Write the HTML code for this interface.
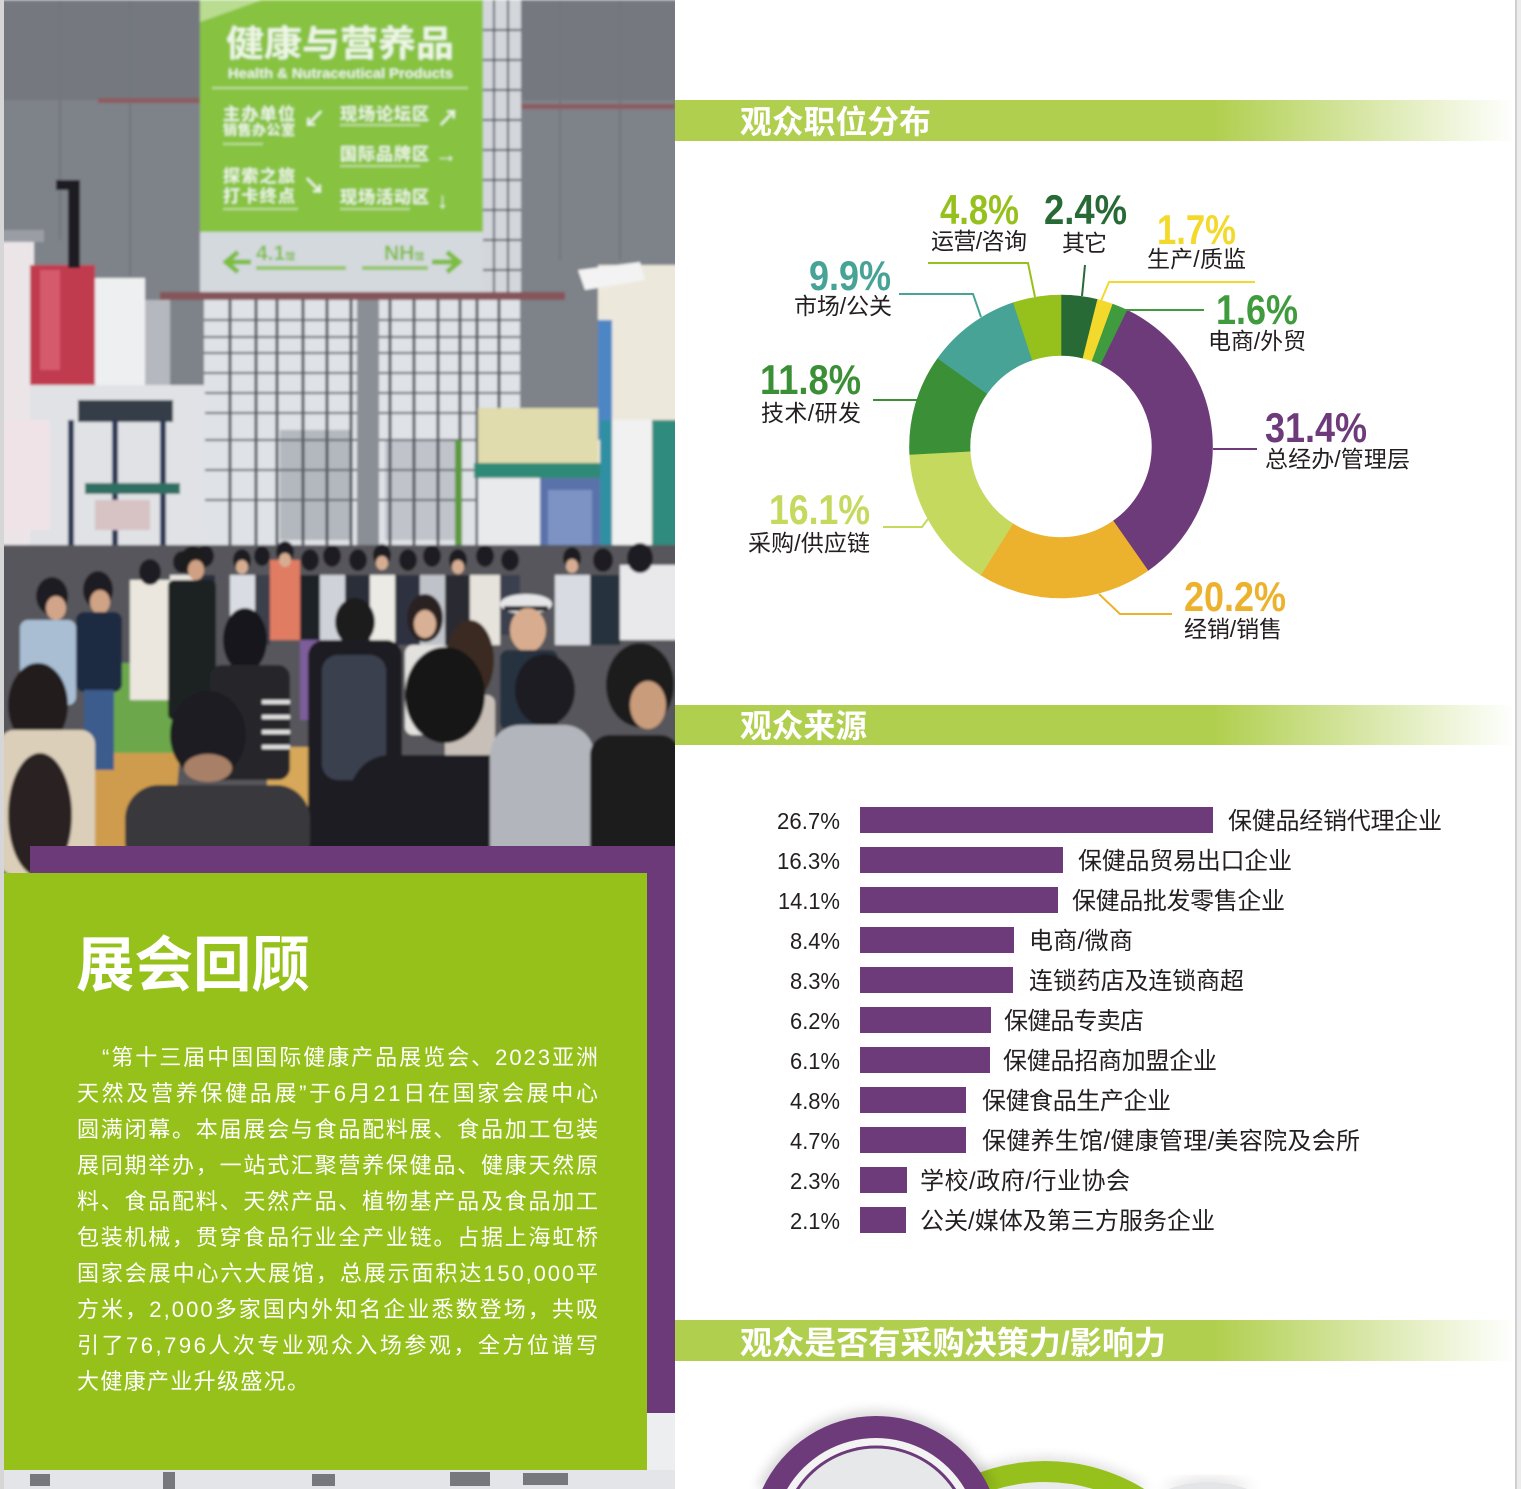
<!DOCTYPE html>
<html><head><meta charset="utf-8"><style>
html,body{margin:0;padding:0;background:#fff;width:1521px;height:1489px;overflow:hidden}
svg{display:block}
text{font-family:"Liberation Sans","Noto Sans CJK SC",sans-serif}
.pc{font-family:"Liberation Sans Narrow","Liberation Sans",sans-serif;font-weight:bold;font-size:42px}
.lb{font-size:23px;fill:#231f20}
.hd{font-size:32px;font-weight:bold;fill:#fff}
.bp{font-size:23px;fill:#231f20}
.bl{font-size:24px;fill:#231f20}
.tx{font-size:22px;fill:#fff}
.sg{fill:#edf6e4;font-weight:bold}
</style></head><body>
<svg width="1521" height="1489" viewBox="0 0 1521 1489" xmlns="http://www.w3.org/2000/svg">
<defs>
<linearGradient id="hg" gradientUnits="userSpaceOnUse" x1="675" y1="0" x2="1515" y2="0">
<stop offset="0" stop-color="#b1cf4f"/><stop offset="0.643" stop-color="#b1cf4f"/><stop offset="1" stop-color="#ffffff"/>
</linearGradient>
<clipPath id="pcl"><rect x="4" y="0" width="671" height="873"/></clipPath>
<clipPath id="bcl"><rect x="675" y="1361" width="840" height="128"/></clipPath>
<filter id="b6" x="-30%" y="-30%" width="160%" height="160%"><feGaussianBlur stdDeviation="6"/></filter>
<filter id="b1" x="-10%" y="-10%" width="120%" height="120%"><feGaussianBlur stdDeviation="1.2"/></filter>
</defs>

<!-- edges -->
<rect x="0" y="0" width="4" height="1489" fill="#d6d6d6"/>
<rect x="1515" y="0" width="6" height="1489" fill="#ececec"/>
<rect x="1515" y="0" width="2" height="1489" fill="#cfcfcf"/>

<!-- ================= PHOTO ================= -->
<g clip-path="url(#pcl)">
<g filter="url(#b1)">
<rect x="0" y="0" width="680" height="873" fill="#7e8289"/>
<rect x="0" y="0" width="680" height="100" fill="#74787f"/>
<g stroke="#72767d" stroke-width="2"><line x1="60" y1="0" x2="60" y2="240"/><line x1="130" y1="0" x2="130" y2="300"/><line x1="560" y1="0" x2="560" y2="260"/><line x1="620" y1="0" x2="620" y2="260"/></g>
<rect x="98" y="98" width="104" height="5" fill="#8d5b60"/>
<rect x="483" y="104" width="192" height="5" fill="#8d5b60"/>
<rect x="483" y="0" width="38" height="295" fill="#d3d7dc"/>
<g stroke="#565a61" stroke-width="2"><line x1="494" y1="0" x2="494" y2="295"/><line x1="508" y1="0" x2="508" y2="295"/>
<line x1="483" y1="30" x2="521" y2="30"/><line x1="483" y1="60" x2="521" y2="60"/><line x1="483" y1="90" x2="521" y2="90"/><line x1="483" y1="120" x2="521" y2="120"/><line x1="483" y1="150" x2="521" y2="150"/><line x1="483" y1="180" x2="521" y2="180"/><line x1="483" y1="210" x2="521" y2="210"/><line x1="483" y1="240" x2="521" y2="240"/><line x1="483" y1="270" x2="521" y2="270"/></g>
<rect x="200" y="0" width="283" height="232" fill="#87c340"/>
<polygon points="200,0 262,0 200,22" fill="#b9dc90"/>
<text x="226" y="56" class="sg" font-size="36" textLength="228" lengthAdjust="spacingAndGlyphs">健康与营养品</text>
<text x="228" y="78" class="sg" font-size="14" textLength="225" lengthAdjust="spacingAndGlyphs">Health &amp; Nutraceutical Products</text>
<line x1="212" y1="88" x2="468" y2="88" stroke="#d0e6b4" stroke-width="1.5"/>
<text x="223" y="120" class="sg" font-size="17" textLength="72">主办单位</text>
<text x="223" y="135" class="sg" font-size="14" textLength="72">销售办公室</text>
<text x="303" y="127" class="sg" font-size="22">↙</text>
<text x="340" y="120" class="sg" font-size="17" textLength="89">现场论坛区</text>
<text x="437" y="126" class="sg" font-size="22">↗</text>
<text x="340" y="160" class="sg" font-size="17" textLength="89">国际品牌区</text>
<text x="435" y="162" class="sg" font-size="22">→</text>
<text x="223" y="182" class="sg" font-size="17" textLength="72">探索之旅</text>
<text x="223" y="202" class="sg" font-size="17" textLength="72">打卡终点</text>
<text x="303" y="194" class="sg" font-size="22">↘</text>
<text x="340" y="203" class="sg" font-size="17" textLength="89">现场活动区</text>
<text x="437" y="208" class="sg" font-size="22">↓</text>
<g fill="#bfe09c"><rect x="340" y="124" width="80" height="2"/><rect x="340" y="165" width="80" height="2"/><rect x="340" y="208" width="70" height="2"/><rect x="223" y="143" width="40" height="2"/><rect x="223" y="208" width="75" height="2"/></g>
<rect x="200" y="232" width="283" height="60" fill="#d4d9de"/>
<path d="M251 262 H228 M238 252 L226 262 L238 272" stroke="#7dbd3c" stroke-width="5" fill="none"/>
<path d="M432 262 H458 M447 252 L459 262 L447 272" stroke="#7dbd3c" stroke-width="5" fill="none"/>
<text x="256" y="260" font-size="21" font-weight="bold" fill="#7fbe3e">4.1<tspan font-size="10">馆</tspan></text>
<text x="384" y="260" font-size="21" font-weight="bold" fill="#7fbe3e">NH<tspan font-size="10">馆</tspan></text>
<rect x="256" y="266" width="90" height="4" fill="#93c761"/><rect x="362" y="266" width="66" height="4" fill="#93c761"/>
<rect x="160" y="292" width="405" height="8" fill="#86545a"/>
<rect x="204" y="300" width="316" height="245" fill="#dfe2e6"/>
<rect x="280" y="430" width="70" height="110" fill="#b3b8bf"/>
<rect x="385" y="440" width="70" height="100" fill="#c0c4ca"/>
<g stroke="#4b5057" stroke-width="3"><line x1="230" y1="300" x2="230" y2="545"/><line x1="256" y1="300" x2="256" y2="545"/><line x1="277" y1="300" x2="277" y2="545"/><line x1="303" y1="300" x2="303" y2="545"/><line x1="327" y1="300" x2="327" y2="545"/><line x1="351" y1="300" x2="351" y2="545"/><line x1="390" y1="300" x2="390" y2="545"/><line x1="414" y1="300" x2="414" y2="545"/><line x1="438" y1="300" x2="438" y2="545"/><line x1="460" y1="300" x2="460" y2="545"/><line x1="477" y1="300" x2="477" y2="545"/><line x1="499" y1="300" x2="499" y2="545"/></g>
<g stroke="#5b6067" stroke-width="2"><line x1="204" y1="320" x2="520" y2="320"/><line x1="204" y1="337" x2="520" y2="337"/><line x1="204" y1="353" x2="520" y2="353"/><line x1="204" y1="373" x2="520" y2="373"/><line x1="204" y1="393" x2="520" y2="393"/><line x1="204" y1="413" x2="520" y2="413"/><line x1="204" y1="440" x2="520" y2="440"/><line x1="204" y1="470" x2="520" y2="470"/><line x1="204" y1="500" x2="520" y2="500"/></g>
<rect x="357" y="300" width="22" height="245" fill="#8a8e95"/>
<rect x="0" y="240" width="34" height="330" fill="#ebe5e8"/>
<rect x="30" y="265" width="65" height="120" fill="#c13a4f"/>
<rect x="40" y="270" width="20" height="100" fill="#d45a6c"/>
<rect x="95" y="278" width="50" height="107" fill="#eeeff1"/>
<rect x="145" y="300" width="25" height="100" fill="#b5b9bf"/>
<rect x="30" y="385" width="175" height="170" fill="#e0e2e5"/>
<rect x="78" y="400" width="95" height="22" fill="#363c4a"/>
<rect x="68" y="180" width="12" height="88" fill="#1d1e22"/><rect x="56" y="180" width="24" height="10" fill="#1d1e22"/>
<rect x="0" y="230" width="44" height="12" fill="#9a9ea4"/>
<rect x="0" y="420" width="50" height="110" fill="#efe3e7"/>
<g fill="#2b3858"><rect x="68" y="420" width="6" height="140"/><rect x="112" y="420" width="6" height="140"/><rect x="160" y="420" width="6" height="140"/></g>
<rect x="85" y="483" width="95" height="11" fill="#2e6e63"/>
<rect x="95" y="500" width="55" height="30" fill="#d7c2c4"/>
<rect x="598" y="265" width="80" height="295" fill="#ece8dc"/>
<rect x="598" y="320" width="14" height="120" fill="#4e86c5"/>
<polygon points="578,270 640,262 645,280 585,290" fill="#f3f3f3"/>
<rect x="478" y="408" width="120" height="55" fill="#e0dcae"/>
<rect x="474" y="463" width="126" height="15" fill="#2d8a77"/>
<rect x="478" y="478" width="62" height="85" fill="#e8eaec"/>
<rect x="540" y="478" width="60" height="85" fill="#5a72aa"/>
<rect x="548" y="490" width="44" height="60" fill="#7d93c4"/>
<rect x="600" y="420" width="12" height="140" fill="#2f90a2"/>
<rect x="612" y="420" width="40" height="140" fill="#f1f1f1"/>
<rect x="652" y="420" width="30" height="190" fill="#2f8b7e"/>
<rect x="455" y="440" width="7" height="120" fill="#5b9a3b"/>
<rect x="0" y="545" width="680" height="330" fill="#56575c"/>
<polygon points="85,663 190,663 195,753 87,753" fill="#6ca84b"/>
<polygon points="95,753 180,753 170,873 95,873" fill="#cf9c4e"/>
<polygon points="269,747 338,747 338,873 262,873" fill="#d7a85a"/>
<g>
<rect x="170" y="575" width="25" height="75" fill="#e9e6df"/><rect x="195" y="575" width="20" height="75" fill="#2a2f3c"/>
<rect x="230" y="575" width="25" height="70" fill="#d9dde3"/><rect x="255" y="575" width="15" height="70" fill="#3a3f4c"/>
<rect x="270" y="560" width="30" height="80" fill="#e07b62"/><rect x="300" y="575" width="20" height="70" fill="#1e2026"/>
<rect x="320" y="575" width="25" height="70" fill="#cfd3d9"/><rect x="345" y="575" width="25" height="60" fill="#2a2e38"/>
<rect x="370" y="575" width="25" height="70" fill="#eceae4"/><rect x="395" y="575" width="25" height="70" fill="#2d3140"/>
<rect x="420" y="575" width="25" height="70" fill="#bfc3c9"/><rect x="445" y="575" width="25" height="70" fill="#2a2c33"/>
<rect x="470" y="575" width="30" height="70" fill="#e6e3dc"/><rect x="500" y="575" width="20" height="60" fill="#3a4050"/>
<rect x="555" y="575" width="35" height="70" fill="#d8dce2"/><rect x="590" y="575" width="30" height="70" fill="#28303c"/>
<rect x="620" y="565" width="60" height="75" fill="#e9e9eb"/>
</g>
<g fill="#1e1e22">
<ellipse cx="182" cy="562" rx="9" ry="11"/><ellipse cx="205" cy="556" rx="9" ry="11"/><ellipse cx="242" cy="560" rx="9" ry="11"/><ellipse cx="262" cy="556" rx="8" ry="10"/><ellipse cx="285" cy="552" rx="9" ry="11"/><ellipse cx="310" cy="560" rx="9" ry="11"/><ellipse cx="332" cy="556" rx="9" ry="11"/><ellipse cx="358" cy="560" rx="9" ry="11"/><ellipse cx="382" cy="555" rx="9" ry="11"/><ellipse cx="408" cy="560" rx="9" ry="11"/><ellipse cx="432" cy="556" rx="9" ry="11"/><ellipse cx="458" cy="560" rx="9" ry="11"/><ellipse cx="485" cy="556" rx="9" ry="11"/><ellipse cx="510" cy="560" rx="9" ry="11"/><ellipse cx="572" cy="558" rx="9" ry="11"/><ellipse cx="603" cy="560" rx="10" ry="12"/><ellipse cx="640" cy="558" rx="13" ry="15"/>
</g>
<g fill="#d6ad92"><ellipse cx="285" cy="560" rx="6" ry="7"/><ellipse cx="382" cy="563" rx="6" ry="7"/><ellipse cx="458" cy="567" rx="6" ry="7"/><ellipse cx="572" cy="566" rx="6" ry="7"/><ellipse cx="242" cy="567" rx="6" ry="7"/></g>
<rect x="130" y="580" width="40" height="120" fill="#ebe7de"/><ellipse cx="150" cy="572" rx="11" ry="13" fill="#1f1f22"/>
<ellipse cx="98" cy="590" rx="15" ry="19" fill="#1c1c20"/><ellipse cx="100" cy="602" rx="10" ry="12" fill="#cfa385"/>
<rect x="76" y="612" width="46" height="80" rx="8" fill="#1f2a42"/><rect x="84" y="690" width="30" height="80" fill="#3b5b8c"/>
<ellipse cx="52" cy="596" rx="16" ry="19" fill="#1e1e22"/><ellipse cx="56" cy="608" rx="10" ry="12" fill="#d2a58a"/>
<rect x="20" y="620" width="56" height="85" rx="8" fill="#a9bdd3"/>
<ellipse cx="193" cy="561" rx="13" ry="15" fill="#1c1c1f"/><ellipse cx="196" cy="570" rx="8" ry="10" fill="#cfa083"/>
<rect x="168" y="580" width="48" height="140" rx="6" fill="#1f2024"/>
<ellipse cx="38" cy="705" rx="30" ry="42" fill="#231d1a"/>
<rect x="0" y="730" width="95" height="145" rx="14" fill="#dccfba"/>
<ellipse cx="40" cy="815" rx="32" ry="62" fill="#2a2420"/>
<ellipse cx="245" cy="640" rx="22" ry="32" fill="#17171a"/>
<rect x="210" y="665" width="80" height="115" rx="12" fill="#26262a"/>
<g fill="#e2e2e2"><rect x="262" y="700" width="28" height="4"/><rect x="262" y="715" width="28" height="4"/><rect x="262" y="730" width="28" height="4"/><rect x="262" y="745" width="28" height="4"/></g>
<rect x="300" y="640" width="30" height="80" fill="#7d5d9a"/>
<ellipse cx="425" cy="618" rx="18" ry="24" fill="#2a2420"/><ellipse cx="425" cy="624" rx="11" ry="14" fill="#d8b095"/>
<rect x="405" y="645" width="45" height="90" rx="8" fill="#e3e1de"/>
<ellipse cx="470" cy="660" rx="24" ry="40" fill="#3a2a22"/>
<rect x="445" y="695" width="50" height="90" rx="8" fill="#c8c0b8"/>
<ellipse cx="355" cy="622" rx="20" ry="24" fill="#1b1b1e"/>
<rect x="308" y="640" width="94" height="235" rx="16" fill="#1c1d22"/>
<rect x="322" y="655" width="64" height="125" rx="16" fill="#3a4050"/>
<ellipse cx="526" cy="604" rx="26" ry="10" fill="#e6e6e8"/><rect x="504" y="606" width="44" height="5" fill="#2a2a2e"/>
<ellipse cx="528" cy="630" rx="18" ry="22" fill="#d8ad8f"/>
<rect x="500" y="650" width="58" height="80" rx="8" fill="#283040"/>
<ellipse cx="208" cy="735" rx="38" ry="44" fill="#1f1f21"/><ellipse cx="208" cy="768" rx="24" ry="14" fill="#a88068"/>
<rect x="125" y="785" width="185" height="90" rx="34" fill="#38393d"/>
<ellipse cx="445" cy="695" rx="40" ry="48" fill="#161618"/>
<rect x="350" y="755" width="200" height="120" rx="40" fill="#1b1c20"/>
<ellipse cx="545" cy="690" rx="30" ry="36" fill="#1e1e20"/>
<rect x="490" y="725" width="104" height="150" rx="30" fill="#b2b6bc"/>
<ellipse cx="640" cy="685" rx="34" ry="42" fill="#1a1a1c"/><ellipse cx="648" cy="705" rx="18" ry="24" fill="#c99c7c"/>
<rect x="590" y="735" width="90" height="140" rx="20" fill="#1b1b1f"/>
</g>
</g>

<!-- ================= LEFT TEXT BOX ================= -->
<rect x="30" y="846" width="645" height="567" fill="#6c3a78"/>
<rect x="4" y="1470" width="671" height="19" fill="#e3e5e8"/>
<rect x="647" y="1413" width="28" height="57" fill="#eceef0"/>
<g fill="#5a5c62" opacity="0.8"><rect x="30" y="1474" width="20" height="12"/><rect x="163" y="1472" width="12" height="17"/><rect x="312" y="1474" width="23" height="12"/><rect x="450" y="1472" width="40" height="14"/><rect x="523" y="1473" width="45" height="12"/></g>
<rect x="4" y="873" width="643" height="597" fill="#96c11a"/>
<text x="76" y="986" font-size="60" font-weight="bold" fill="#fff" textLength="234" lengthAdjust="spacingAndGlyphs">展会回顾</text>
<text class="tx" x="102" y="1065" textLength="496">“第十三届中国国际健康产品展览会、2023亚洲</text>
<text class="tx" x="77" y="1101" textLength="521">天然及营养保健品展”于6月21日在国家会展中心</text>
<text class="tx" x="77" y="1137" textLength="521">圆满闭幕。本届展会与食品配料展、食品加工包装</text>
<text class="tx" x="77" y="1173" textLength="521">展同期举办，一站式汇聚营养保健品、健康天然原</text>
<text class="tx" x="77" y="1209" textLength="521">料、食品配料、天然产品、植物基产品及食品加工</text>
<text class="tx" x="77" y="1245" textLength="521">包装机械，贯穿食品行业全产业链。占据上海虹桥</text>
<text class="tx" x="77" y="1281" textLength="521">国家会展中心六大展馆，总展示面积达150,000平</text>
<text class="tx" x="77" y="1317" textLength="521">方米，2,000多家国内外知名企业悉数登场，共吸</text>
<text class="tx" x="77" y="1353" textLength="521">引了76,796人次专业观众入场参观，全方位谱写</text>
<text class="tx" x="77" y="1389" textLength="232">大健康产业升级盛况。</text>

<!-- ================= HEADER BARS ================= -->
<rect x="675" y="100" width="840" height="41" fill="url(#hg)"/>
<text class="hd" x="740" y="133" textLength="191" lengthAdjust="spacingAndGlyphs">观众职位分布</text>
<rect x="675" y="705" width="840" height="40" fill="url(#hg)"/>
<text class="hd" x="740" y="737" textLength="127" lengthAdjust="spacingAndGlyphs">观众来源</text>
<rect x="675" y="1320" width="840" height="41" fill="url(#hg)"/>
<text class="hd" x="740" y="1354" textLength="426" lengthAdjust="spacingAndGlyphs">观众是否有采购决策力/影响力</text>

<!-- ================= DONUT ================= -->
<g stroke-width="0.6">
<path d="M1061 295 A151.5 151.5 0 0 1 1097.65 299.5 L1083.01 358.2 A91 91 0 0 0 1061 355.5Z" fill="#276a35" stroke="#276a35"/>
<path d="M1097.65 299.5 A151.5 151.5 0 0 1 1112.82 304.14 L1092.12 360.99 A91 91 0 0 0 1083.01 358.2Z" fill="#f3d92b" stroke="#f3d92b"/>
<path d="M1112.82 304.14 A151.5 151.5 0 0 1 1127.41 310.33 L1100.89 364.71 A91 91 0 0 0 1092.12 360.99Z" fill="#3f9b3d" stroke="#3f9b3d"/>
<path d="M1127.41 310.33 A151.5 151.5 0 0 1 1147.9 570.6 L1113.2 521.04 A91 91 0 0 0 1100.89 364.71Z" fill="#6d3a7a" stroke="#6d3a7a"/>
<path d="M1147.9 570.6 A151.5 151.5 0 0 1 980.72 574.98 L1012.78 523.67 A91 91 0 0 0 1113.2 521.04Z" fill="#ecb22e" stroke="#ecb22e"/>
<path d="M980.72 574.98 A151.5 151.5 0 0 1 909.71 454.43 L970.12 451.26 A91 91 0 0 0 1012.78 523.67Z" fill="#c5d95e" stroke="#c5d95e"/>
<path d="M909.71 454.43 A151.5 151.5 0 0 1 937.82 358.31 L987.01 393.53 A91 91 0 0 0 970.12 451.26Z" fill="#3b8f36" stroke="#3b8f36"/>
<path d="M937.82 358.31 A151.5 151.5 0 0 1 1013.43 302.66 L1032.43 360.1 A91 91 0 0 0 987.01 393.53Z" fill="#48a397" stroke="#48a397"/>
<path d="M1013.43 302.66 A151.5 151.5 0 0 1 1061 295 L1061 355.5 A91 91 0 0 0 1032.43 360.1Z" fill="#96c11c" stroke="#96c11c"/>
</g>
<g fill="none" stroke-width="2">
<path d="M928 263 H1028 L1035 297" stroke="#96c11c"/>
<path d="M1085 265 L1082 296" stroke="#276a35"/>
<path d="M1255 282 H1109 L1101 301" stroke="#f3d92b"/>
<path d="M899 294 H973 L981 317" stroke="#48a397"/>
<path d="M1204 310 H1125" stroke="#3f9b3d"/>
<path d="M873 400 H917" stroke="#3b8f36"/>
<path d="M1213 449 H1257" stroke="#6d3a7a"/>
<path d="M883 527 H922 L928 519" stroke="#c5d95e"/>
<path d="M1099 594 L1120 614 H1172" stroke="#ecb22e"/>
</g>
<text class="pc" x="940" y="224" textLength="79" lengthAdjust="spacingAndGlyphs" fill="#96c11c">4.8%</text>
<text class="pc" x="1044" y="224" textLength="83" lengthAdjust="spacingAndGlyphs" fill="#276a35">2.4%</text>
<text class="pc" x="1157" y="244" textLength="79" lengthAdjust="spacingAndGlyphs" fill="#f3d92b">1.7%</text>
<text class="pc" x="809" y="290" textLength="82" lengthAdjust="spacingAndGlyphs" fill="#48a397">9.9%</text>
<text class="pc" x="1216" y="324" textLength="82" lengthAdjust="spacingAndGlyphs" fill="#3f9b3d">1.6%</text>
<text class="pc" x="760" y="394" textLength="101" lengthAdjust="spacingAndGlyphs" fill="#3b8f36">11.8%</text>
<text class="pc" x="1265" y="442" textLength="102" lengthAdjust="spacingAndGlyphs" fill="#6d3a7a">31.4%</text>
<text class="pc" x="769" y="524" textLength="101" lengthAdjust="spacingAndGlyphs" fill="#c5d95e">16.1%</text>
<text class="pc" x="1184" y="611" textLength="102" lengthAdjust="spacingAndGlyphs" fill="#ecb22e">20.2%</text>
<text class="lb" x="931" y="249" textLength="96">运营/咨询</text>
<text class="lb" x="1062" y="251" textLength="45">其它</text>
<text class="lb" x="1147" y="267" textLength="99">生产/质监</text>
<text class="lb" x="794" y="314" textLength="98">市场/公关</text>
<text class="lb" x="1208" y="349" textLength="98">电商/外贸</text>
<text class="lb" x="761" y="421" textLength="100">技术/研发</text>
<text class="lb" x="1265" y="467" textLength="145">总经办/管理层</text>
<text class="lb" x="748" y="551" textLength="122">采购/供应链</text>
<text class="lb" x="1184" y="637" textLength="98">经销/销售</text>

<!-- ================= BAR CHART ================= -->
<g fill="#6d3a7a">
<rect x="860" y="807" width="353" height="26"/>
<rect x="860" y="847" width="203" height="26"/>
<rect x="860" y="887" width="198" height="26"/>
<rect x="860" y="927" width="154" height="26"/>
<rect x="860" y="967" width="153" height="26"/>
<rect x="860" y="1007" width="131" height="26"/>
<rect x="860" y="1047" width="130" height="26"/>
<rect x="860" y="1087" width="106" height="26"/>
<rect x="860" y="1127" width="106" height="26"/>
<rect x="860" y="1167" width="47" height="26"/>
<rect x="860" y="1207" width="46" height="26"/>
</g>
<g text-anchor="end">
<text class="bp" x="840" y="829" textLength="63" lengthAdjust="spacingAndGlyphs">26.7%</text>
<text class="bp" x="840" y="869" textLength="63" lengthAdjust="spacingAndGlyphs">16.3%</text>
<text class="bp" x="840" y="909" textLength="62" lengthAdjust="spacingAndGlyphs">14.1%</text>
<text class="bp" x="840" y="949" textLength="50" lengthAdjust="spacingAndGlyphs">8.4%</text>
<text class="bp" x="840" y="989" textLength="50" lengthAdjust="spacingAndGlyphs">8.3%</text>
<text class="bp" x="840" y="1029" textLength="50" lengthAdjust="spacingAndGlyphs">6.2%</text>
<text class="bp" x="840" y="1069" textLength="50" lengthAdjust="spacingAndGlyphs">6.1%</text>
<text class="bp" x="840" y="1109" textLength="50" lengthAdjust="spacingAndGlyphs">4.8%</text>
<text class="bp" x="840" y="1149" textLength="50" lengthAdjust="spacingAndGlyphs">4.7%</text>
<text class="bp" x="840" y="1189" textLength="50" lengthAdjust="spacingAndGlyphs">2.3%</text>
<text class="bp" x="840" y="1229" textLength="50" lengthAdjust="spacingAndGlyphs">2.1%</text>
</g>
<text class="bl" x="1228" y="829" textLength="214">保健品经销代理企业</text>
<text class="bl" x="1078" y="869" textLength="214">保健品贸易出口企业</text>
<text class="bl" x="1072" y="909" textLength="213">保健品批发零售企业</text>
<text class="bl" x="1029" y="949" textLength="104">电商/微商</text>
<text class="bl" x="1029" y="989" textLength="215">连锁药店及连锁商超</text>
<text class="bl" x="1004" y="1029" textLength="140">保健品专卖店</text>
<text class="bl" x="1003" y="1069" textLength="214">保健品招商加盟企业</text>
<text class="bl" x="982" y="1109" textLength="189">保健食品生产企业</text>
<text class="bl" x="982" y="1149" textLength="378">保健养生馆/健康管理/美容院及会所</text>
<text class="bl" x="920" y="1189" textLength="210">学校/政府/行业协会</text>
<text class="bl" x="920" y="1229" textLength="295">公关/媒体及第三方服务企业</text>

<!-- ================= BOTTOM CIRCLES (clipped at frame bottom) ================= -->
<g clip-path="url(#bcl)">
<path d="M1158.25 1489 A118 118 0 0 1 1257.75 1489Z" fill="#000" opacity="0.12" filter="url(#b6)"/>
<path d="M1168.67 1489 A114 114 0 0 1 1247.33 1489Z" fill="#e4e5e7"/>
<path d="M938.27 1489 A194 194 0 0 1 1151.73 1489Z" fill="#000" opacity="0.12" filter="url(#b6)"/>
<path d="M945.72 1489 A190 190 0 0 1 1144.28 1489Z" fill="#96c11c"/>
<path d="M996.86 1489 A169 169 0 0 1 1093.14 1489Z" fill="#e9eaeb"/>
<path d="M756.85 1489 A130 130 0 0 1 995.15 1489Z" fill="#000" opacity="0.16" filter="url(#b6)"/>
<path d="M762.33 1489 A125 125 0 0 1 989.67 1489Z" fill="#6d3a7a"/>
<path d="M787.09 1489 A103 103 0 0 1 964.91 1489Z" fill="#f3f3f4"/>
<path d="M795.9 1489 A95.5 95.5 0 0 1 956.1 1489Z" fill="#6d3a7a"/>
<path d="M799.5 1489 A92.5 92.5 0 0 1 952.5 1489Z" fill="#e7e8ea"/>
</g>
</svg>
</body></html>
